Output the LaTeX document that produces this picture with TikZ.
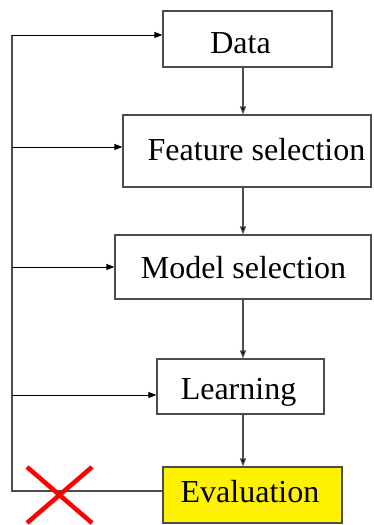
\documentclass[tikz,border=0pt]{standalone}
\usepackage{fontspec}
\setmainfont{Liberation Serif}
\usetikzlibrary{arrows.meta}
\begin{document}
\begin{tikzpicture}[x=1pt,y=-1pt,
  box/.style={draw=gray!60!black, line width=1.2pt, rectangle, inner sep=0pt},
  txt/.style={font=\fontsize{32}{38}\selectfont, inner sep=0pt, text height=21.2pt, text depth=0pt},
  line/.style={draw=gray!60!black, line width=1.2pt},
  arr/.style={draw=black, line width=0.9pt, -{Triangle[length=8pt,width=6pt]}},
  varr/.style={draw=gray!60!black, line width=1.2pt, -{Triangle[length=8pt,width=6pt,fill=black]}}]
\useasboundingbox (0,0) rectangle (373,525);
\node[box, minimum width=169pt, minimum height=56pt, label={[txt,xshift=-7pt,yshift=-3.5pt]center:Data}] (data) at (247.5,39) {};
\node[box, minimum width=248pt, minimum height=72pt, label={[txt,xshift=9.5pt,yshift=1pt]center:Feature selection}] (feat) at (247,151) {};
\node[box, minimum width=256pt, minimum height=64pt, label={[txt,xshift=0.5pt,yshift=-1pt]center:Model selection}] (model) at (243,267) {};
\node[box, minimum width=167pt, minimum height=55pt, label={[txt,xshift=-2pt,yshift=-2.5pt]center:Learning}] (learn) at (240.5,386.5) {};
\node[box, fill=yellow, minimum width=179pt, minimum height=56pt, label={[txt,xshift=-2.5pt,yshift=3.5pt]center:Evaluation}] (eval) at (252.5,495) {};
\coordinate (colx) at (243,0);
\coordinate (a1) at (12,35);
\coordinate (a2) at (12,147);
\coordinate (a3) at (12,267);
\coordinate (a4) at (12,395);
\coordinate (e1) at (12,491);
\draw[varr] (data.south -| colx) -- (feat.north -| colx);
\draw[varr] (feat.south -| colx) -- (model.north -| colx);
\draw[varr] (model.south -| colx) -- (learn.north -| colx);
\draw[varr] (learn.south -| colx) -- (eval.north -| colx);
\draw[line] (e1 -| eval.west) -- (e1) -- (a1);
\draw[arr] (a1) -- (a1 -| data.west);
\draw[arr] (a2) -- (a2 -| feat.west);
\draw[arr] (a3) -- (a3 -| model.west);
\draw[arr] (a4) -- (a4 -| learn.west);
\coordinate (x1) at (27,467);
\coordinate (x2) at (92,523);
\coordinate (x3) at (92,467);
\coordinate (x4) at (27,523);
\draw[red, line width=4.5pt] (x1) -- (x2) (x3) -- (x4);
\end{tikzpicture}
\end{document}
